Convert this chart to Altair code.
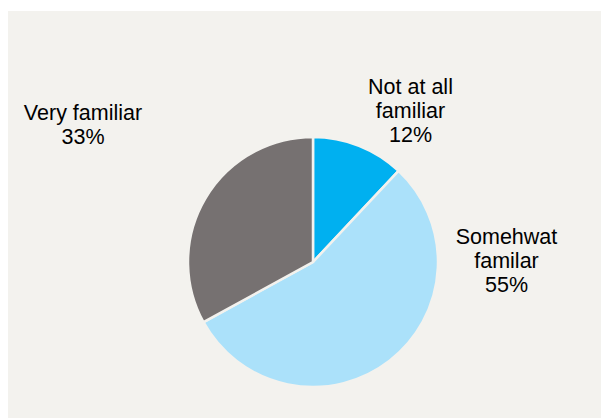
import altair as alt
import pandas as pd

categories = ["Not at all familiar", "Somewhat familiar", "Very familiar"]
values = [12, 55, 33]
colors = ["#00b0f0", "#abe1fa", "#767171"]
label_lines = [["Not at all", "familiar", "12%"], ["Somehwat", "familar", "55%"], ["Very familiar", "33%"]]

df = pd.DataFrame({"category": categories, "value": values, "order": list(range(len(values)))})
df["label"] = ["\n".join(l) for l in label_lines]

BG = "#f3f2ee"

pie = alt.Chart(df).mark_arc(outerRadius=125, stroke=BG, strokeWidth=2.5).encode(
    theta=alt.Theta("value:Q", stack=True),
    order=alt.Order("order:Q"),
    color=alt.Color("category:N", scale=alt.Scale(domain=categories, range=colors), legend=None),
    x=alt.value(305),
    y=alt.value(251),
)

label_pos = [(402.5, 76.5), (498.5, 226.5), (75, 102.5)]
texts = []
for i, (px, py) in enumerate(label_pos):
    t = alt.Chart(df).transform_filter(alt.datum.order == i).mark_text(
        font="Liberation Sans", fontSize=21.5, color="#000000", lineBreak="\n",
        lineHeight=24, align="center", baseline="middle"
    ).encode(text="label:N", x=alt.value(px), y=alt.value(py))
    texts.append(t)

chart = alt.layer(pie, *texts).properties(
    width=593, height=407,
    autosize=alt.AutoSizeParams(type="none"),
    padding={"left": 8, "top": 11, "right": 0, "bottom": 0},
    background="#ffffff",
).configure_view(fill=BG, stroke=None)

chart.save("out.html", embed_options={"renderer": "svg", "actions": False})
